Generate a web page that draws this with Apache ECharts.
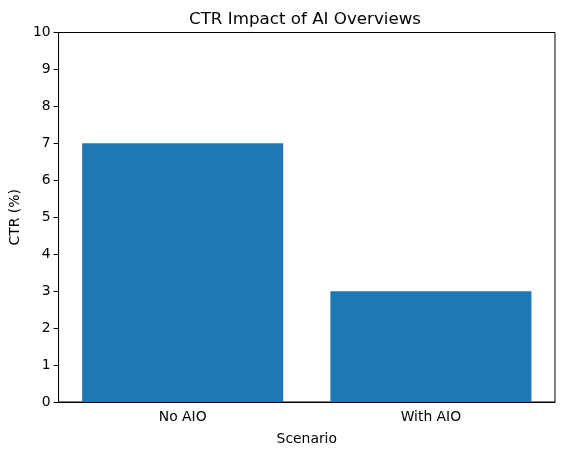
<!DOCTYPE html>
<html>
<head>
<meta charset="utf-8">
<script src="https://cdn.jsdelivr.net/npm/echarts@6/dist/echarts.min.js"></script>
<style>
  html, body { margin: 0; padding: 0; background: #fff; }
  #chart { width: 562px; height: 455px; }
</style>
</head>
<body>
<div id="chart"></div>
<script>
var scenarios = ['No AIO', 'With AIO'];
var ctrValues = [7, 3];
var yTicks = [0, 1, 2, 3, 4, 5, 6, 7, 8, 9, 10];

var chart = echarts.init(document.getElementById('chart'));
var font = 'DejaVu Sans';
chart.setOption({
    animation: false,
    title: {
        text: 'CTR Impact of AI Overviews',
        left: 184, top: 6,
        textStyle: { fontFamily: font, fontSize: 16.7, fontWeight: 'normal', color: '#000' }
    },
    grid: {
        left: 57.5, right: 7, top: 32.5, bottom: 53,
        show: true, borderColor: '#000', borderWidth: 1, backgroundColor: 'transparent'
    },
    xAxis: {
        type: 'category',
        data: scenarios,
        name: 'Scenario',
        nameLocation: 'middle',
        nameGap: 30,
        nameTextStyle: { fontFamily: font, fontSize: 13.9, color: '#000' },
        axisLine: { lineStyle: { color: '#000' } },
        axisTick: { alignWithLabel: true, length: 5, lineStyle: { color: '#000' } },
        axisLabel: { fontFamily: font, fontSize: 13.9, color: '#000', margin: 8 },
        splitLine: { show: false }
    },
    yAxis: {
        type: 'value',
        min: yTicks[0], max: yTicks[yTicks.length - 1], interval: 1,
        name: 'CTR (%)',
        nameLocation: 'middle',
        nameGap: 35,
        nameTextStyle: { fontFamily: font, fontSize: 13.9, color: '#000' },
        axisLine: { show: true, lineStyle: { color: '#000' } },
        axisTick: { show: true, length: 5, lineStyle: { color: '#000' } },
        axisLabel: { fontFamily: font, fontSize: 13.9, color: '#000', margin: 8 },
        splitLine: { show: false }
    },
    series: [{
        type: 'bar',
        data: ctrValues,
        barWidth: '81%',
        itemStyle: { color: '#1f77b4' }
    }]
});
</script>
</body>
</html>
